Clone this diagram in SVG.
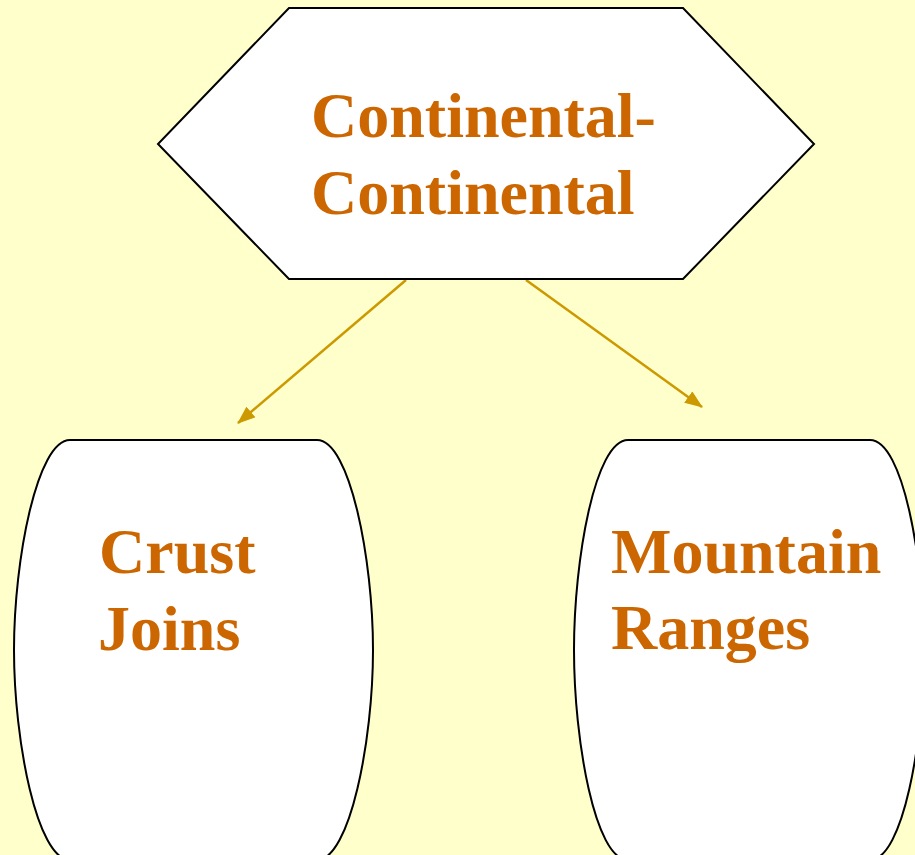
<svg xmlns="http://www.w3.org/2000/svg" width="915" height="855" viewBox="0 0 915 855">
<defs>
<style>
.shape{fill:#ffffff;stroke:#000000;stroke-width:2}
.lbl{font-family:"Liberation Serif","Times New Roman",serif;font-weight:bold;font-size:64px;fill:#cc6600}
.conn{stroke:#cc9900;stroke-width:2.5;fill:none}
</style>
<marker id="arr" markerUnits="userSpaceOnUse" markerWidth="18" markerHeight="14" refX="17" refY="7" orient="auto">
<path d="M0,0 L18,7 L0,14 z" fill="#cc9900"/>
</marker>
</defs>
<rect x="0" y="0" width="915" height="855" fill="#ffffcc"/>
<g id="connectors">
<line class="conn" x1="406" y1="280" x2="238" y2="423" marker-end="url(#arr)"/>
<line class="conn" x1="526" y1="280" x2="702" y2="407" marker-end="url(#arr)"/>
</g>
<g id="node-continental">
<polygon class="shape" points="289,8 683,8 814,144 683,279 289,279 158,144"/>
<text class="lbl" x="311" y="137">Continental-</text>
<text class="lbl" x="311" y="214">Continental</text>
</g>
<g id="node-crust">
<path class="shape" d="M70,440 L317,440 C350,440 373,560 373,650 C373,740 350,860 317,860 L70,860 C37,860 14,740 14,650 C14,560 37,440 70,440 Z"/>
<text class="lbl" x="99" y="573">Crust</text>
<text class="lbl" x="98" y="650">Joins</text>
</g>
<g id="node-mountain">
<path class="shape" d="M628,440 L870,440 C903,440 924,560 924,650 C924,740 903,860 870,860 L628,860 C595,860 574,740 574,650 C574,560 595,440 628,440 Z"/>
<text class="lbl" x="611" y="573">Mountain</text>
<text class="lbl" x="611" y="649">Ranges</text>
</g>
</svg>
